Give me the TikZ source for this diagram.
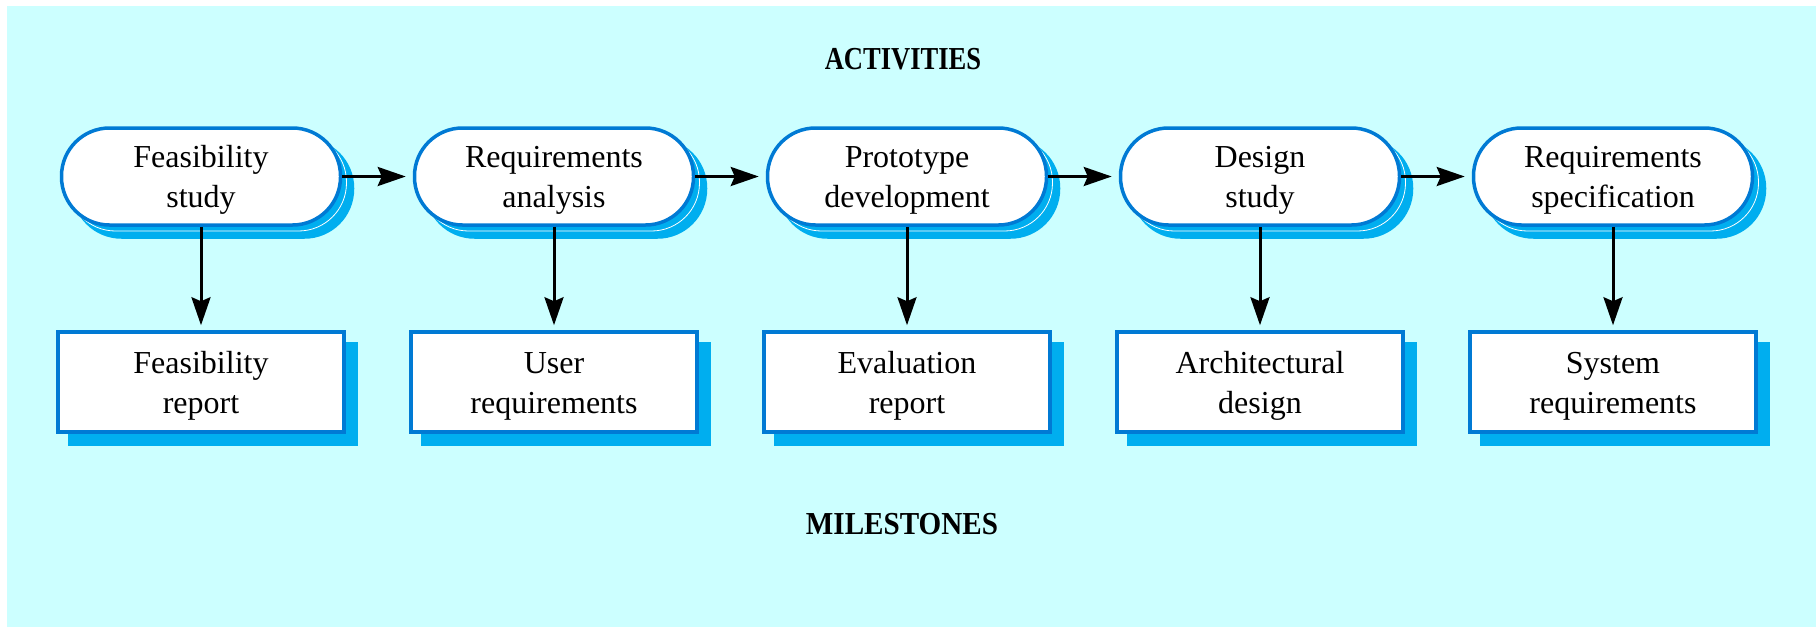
\documentclass[tikz,border=0pt]{standalone}
\usepackage{fontspec}
\setmainfont{Liberation Serif}
\usetikzlibrary{arrows.meta,shadows}
\definecolor{bgcyan}{RGB}{204,255,255}
\definecolor{edgeblue}{RGB}{0,122,212}
\definecolor{shadeblue}{RGB}{0,174,239}
\newcommand{\topstrut}{\rule{0pt}{29pt}}
\tikzset{
  boxtext/.style={align=center, inner sep=0pt, font=\fontsize{32}{40}\selectfont},
  activity/.style={boxtext, draw=edgeblue, line width=3.5pt, fill=white,
    rounded corners=48pt, minimum width=279pt, minimum height=97pt,
    general shadow={shadow xshift=12pt, shadow yshift=-12pt, fill=shadeblue, draw=shadeblue},
    general shadow={shadow xshift=6pt, shadow yshift=-6pt, fill=shadeblue, draw=white, line width=0.8pt}},
  milestone/.style={boxtext, draw=edgeblue, line width=3.5pt, fill=white,
    minimum width=286pt, minimum height=100pt,
    general shadow={shadow xshift=12pt, shadow yshift=-12pt, fill=shadeblue, draw=shadeblue}},
  flow/.style={-{Stealth[length=28pt,width=19pt,inset=4pt]}, line width=3pt, black},
  heading/.style={inner sep=0pt, font=\fontsize{32}{40}\selectfont\bfseries}
}
\begin{document}
\begin{tikzpicture}[x=1pt,y=-1pt]
\useasboundingbox (0,0) rectangle (1816,627);
\fill[bgcyan] (7,6) rectangle (1816,627);

\node[heading] (act) at (903,59) {\scalebox{0.83}[1]{ACTIVITIES}};
\node[heading] (mil) at (902,524) {\scalebox{0.91}[1]{MILESTONES}};

\node[activity] (a1) at (201,176.5) {\topstrut Feasibility\\study};
\node[activity] (a2) at (554,176.5) {\topstrut Requirements\\analysis};
\node[activity] (a3) at (907,176.5) {\topstrut Prototype\\development};
\node[activity] (a4) at (1260,176.5) {\topstrut Design\\study};
\node[activity] (a5) at (1613,176.5) {\topstrut Requirements\\specification};

\node[milestone] (m1) at (201,382) {\topstrut Feasibility\\report};
\node[milestone] (m2) at (554,382) {\topstrut User\\requirements};
\node[milestone] (m3) at (907,382) {\topstrut Evaluation\\report};
\node[milestone] (m4) at (1260,382) {\topstrut Architectural\\design};
\node[milestone] (m5) at (1613,382) {\topstrut System\\requirements};

\foreach \i/\j in {1/2,2/3,3/4,4/5}{
  \draw[flow, shorten >=7pt] (a\i.east) -- (a\j.west);
}
\foreach \i in {1,...,5}{
  \draw[flow, shorten >=5pt] (a\i.south) -- (m\i.north);
}
\end{tikzpicture}
\end{document}
